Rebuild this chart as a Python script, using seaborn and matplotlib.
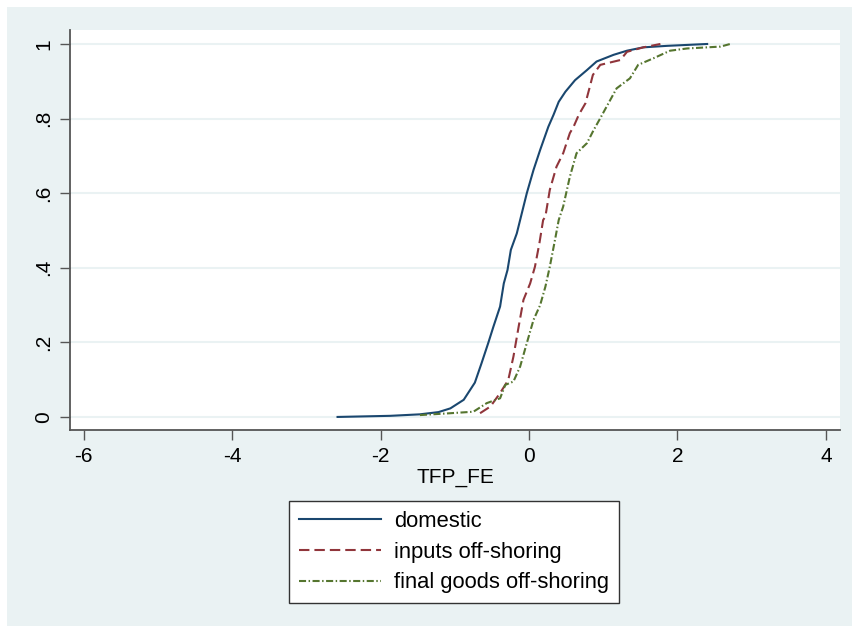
import matplotlib
matplotlib.use("Agg")
import matplotlib.pyplot as plt
from matplotlib.patches import Rectangle
import seaborn as sns
import pandas as pd

plt.rcParams['font.family'] = ['Liberation Sans', 'DejaVu Sans']

domestic_x = [-2.58, -1.87, -1.47, -1.22, -1.06, -0.88, -0.73, -0.64, -0.55, -0.48,
              -0.39, -0.34, -0.29, -0.245, -0.165, -0.12, -0.03, 0.06, 0.15, 0.26,
              0.33, 0.40, 0.49, 0.62, 0.78, 0.91, 1.14, 1.32, 1.54, 1.86, 2.40]
domestic_y = [0.0, 0.003, 0.007, 0.013, 0.023, 0.046, 0.092, 0.144, 0.198, 0.242,
              0.296, 0.358, 0.394, 0.448, 0.492, 0.528, 0.600, 0.662, 0.716, 0.778,
              0.810, 0.845, 0.872, 0.903, 0.930, 0.953, 0.971, 0.982, 0.991, 0.995, 1.0]

inputs_x = [-0.66, -0.52, -0.39, -0.28, -0.21, -0.14, -0.075, 0.015, 0.08, 0.14,
            0.19, 0.22, 0.28, 0.37, 0.46, 0.55, 0.60, 0.67, 0.76, 0.82,
            0.86, 0.96, 1.23, 1.32, 1.54, 1.77]
inputs_y = [0.010, 0.028, 0.064, 0.099, 0.162, 0.242, 0.314, 0.358, 0.403, 0.466,
            0.528, 0.537, 0.609, 0.671, 0.707, 0.761, 0.778, 0.810, 0.841, 0.886,
            0.917, 0.944, 0.957, 0.979, 0.991, 1.0]

final_x = [-1.47, -1.06, -0.75, -0.57, -0.39, -0.32, -0.21, -0.12, -0.03, 0.06,
           0.15, 0.22, 0.28, 0.35, 0.40, 0.46, 0.55, 0.64, 0.78, 0.87,
           0.96, 1.07, 1.18, 1.36, 1.47, 1.68, 1.90, 2.13, 2.58, 2.71]
final_y = [0.005, 0.010, 0.014, 0.037, 0.050, 0.086, 0.095, 0.135, 0.198, 0.260,
           0.300, 0.349, 0.403, 0.475, 0.528, 0.564, 0.644, 0.707, 0.734, 0.769,
           0.801, 0.841, 0.881, 0.908, 0.944, 0.962, 0.982, 0.988, 0.993, 1.0]

series_names = ["domestic", "inputs off-shoring", "final goods off-shoring"]
x_ticks = [-6, -4, -2, 0, 2, 4]
y_ticks = [0, 0.2, 0.4, 0.6, 0.8, 1.0]
y_tick_labels = ["0", ".2", ".4", ".6", ".8", "1"]

frames = []
for name, xs, ys in zip(series_names, [domestic_x, inputs_x, final_x],
                        [domestic_y, inputs_y, final_y]):
    frames.append(pd.DataFrame({"TFP_FE": xs, "cdf": ys, "group": name}))
df = pd.concat(frames, ignore_index=True)

W, H = 852, 626
fig = plt.figure(figsize=(W / 100, H / 100), dpi=100)
fig.patch.set_facecolor("white")
bg = "#eaf2f3"
fig.patches.append(Rectangle((7 / W, 0), 1 - 7 / W, 1 - 7 / H, transform=fig.transFigure,
                             facecolor=bg, edgecolor="none", zorder=-10))

ax = fig.add_axes([70 / W, (H - 430) / H, (840 - 70) / W, (430 - 30) / H])
ax.set_facecolor("white")

palette = {"domestic": "#1a476f", "inputs off-shoring": "#90353b",
           "final goods off-shoring": "#55752f"}
dashes = {"domestic": "", "inputs off-shoring": (5.0, 2.4),
          "final goods off-shoring": (3.4, 1.2, 0.7, 1.2)}

sns.lineplot(data=df, x="TFP_FE", y="cdf", hue="group", style="group",
             hue_order=series_names, style_order=series_names,
             palette=palette, dashes=dashes, sort=False, estimator=None,
             units="group", linewidth=1.5, ax=ax, legend=True)

ax.set_xlim(-6.185, 4.19)
ax.set_ylim(-0.035, 1.0375)
ax.set_xticks(x_ticks)
ax.set_xticklabels([str(t) for t in x_ticks])
ax.set_yticks(y_ticks)
ax.set_yticklabels(y_tick_labels, rotation=90, va="center")
ax.yaxis.grid(True, color=bg, linewidth=1.5)
ax.xaxis.grid(False)
ax.set_axisbelow(True)

for s in ["top", "right"]:
    ax.spines[s].set_visible(False)
for s in ["left", "bottom"]:
    ax.spines[s].set_color("#555555")
    ax.spines[s].set_linewidth(1.3)
ax.tick_params(axis="both", length=7, width=1.0, color="#555555",
               labelsize=15, labelcolor="black", pad=5)

ax.set_xlabel("TFP_FE", fontsize=15, labelpad=2)
ax.set_ylabel("")

handles, labels = ax.get_legend_handles_labels()
ax.get_legend().remove()
leg = fig.legend(handles, labels, loc="upper left",
                 bbox_to_anchor=(289 / W, 1 - 501 / H), bbox_transform=fig.transFigure,
                 frameon=True, fancybox=False, fontsize=15.8,
                 handlelength=3.75, handletextpad=0.6, labelspacing=0.44,
                 borderpad=0.45, borderaxespad=0)
leg.get_frame().set_edgecolor("#333333")
leg.get_frame().set_linewidth(1.0)
leg.get_frame().set_facecolor("white")
leg.get_frame().set_alpha(1)

fig.savefig("out.png", dpi=100, facecolor=fig.get_facecolor())
